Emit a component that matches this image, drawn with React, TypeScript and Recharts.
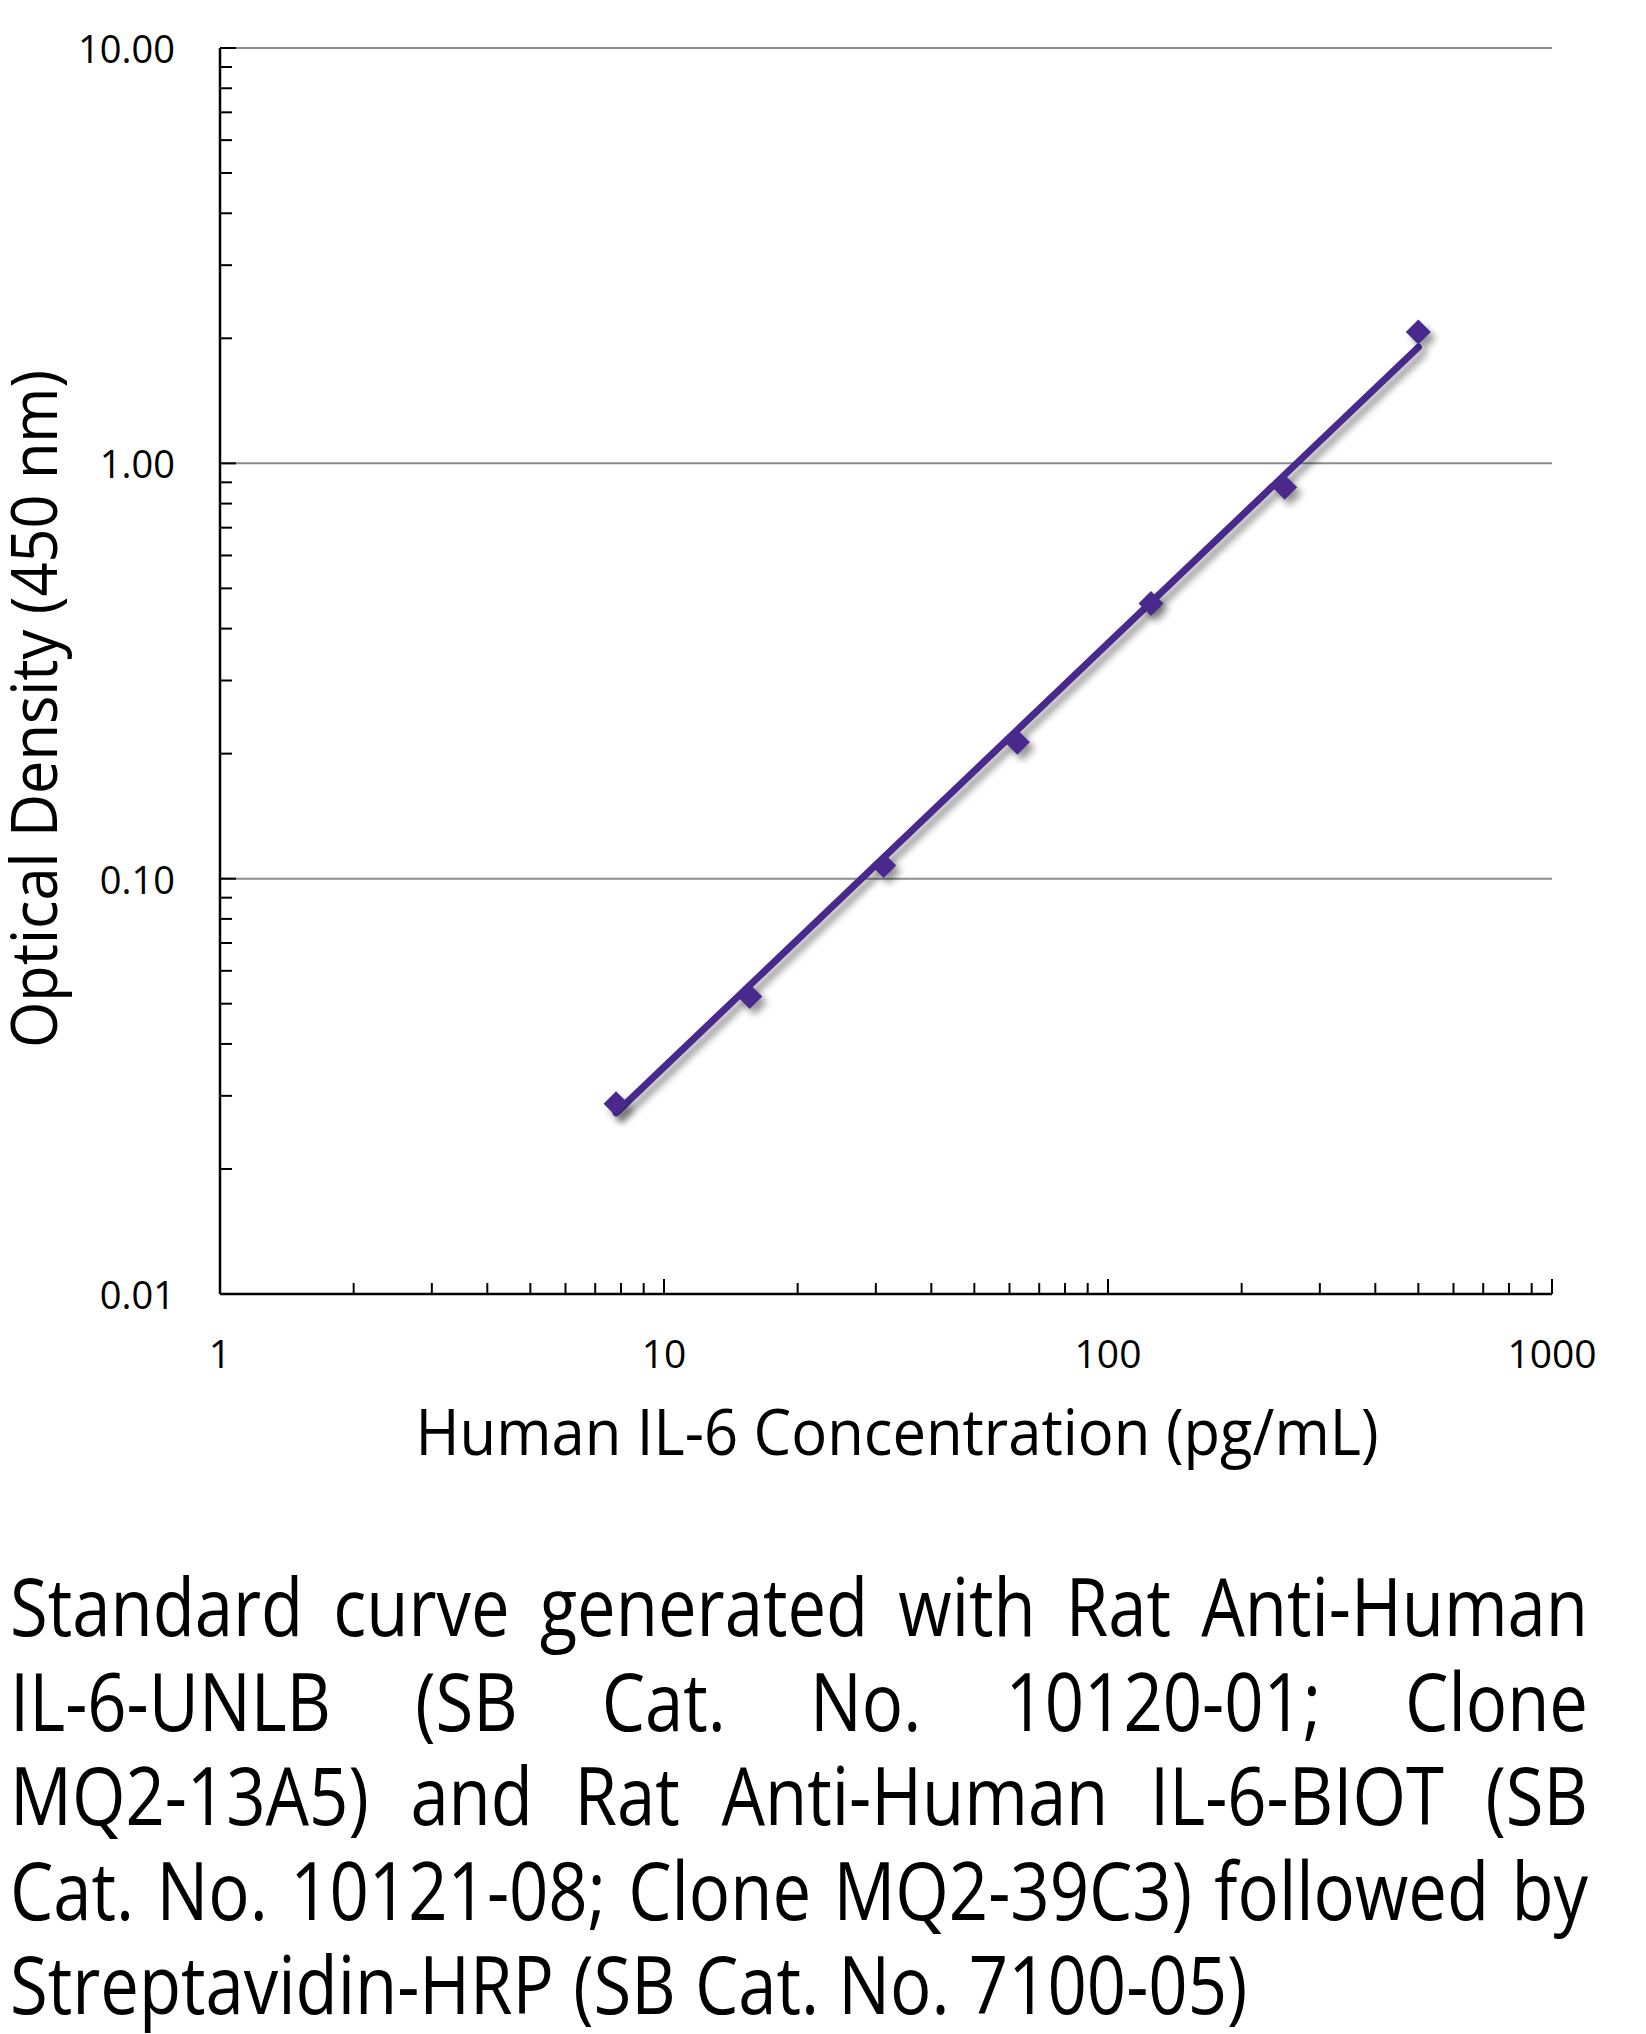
import React from 'react';
import { ComposedChart, XAxis, YAxis, CartesianGrid, Line, Scatter } from 'recharts';

// standard curve readings
const concentrations = [7.8, 15.6, 31.25, 62.5, 125, 250, 500];
const odValues = [0.0287, 0.052, 0.1075, 0.213, 0.46, 0.876, 2.07];

// fitted line, read at its two ends
const fitConc = [7.8, 500];
const fitOd = [0.0273, 1.904];

const xMajorTicks = [1, 10, 100, 1000];
const xMinorTicks = [2, 3, 4, 5, 6, 7, 8, 9, 20, 30, 40, 50, 60, 70, 80, 90, 200, 300, 400, 500, 600, 700, 800, 900];
const yMajorTicks = [0.01, 0.1, 1, 10];
const yMinorTicks = [
  0.02, 0.03, 0.04, 0.05, 0.06, 0.07, 0.08, 0.09,
  0.2, 0.3, 0.4, 0.5, 0.6, 0.7, 0.8, 0.9,
  2, 3, 4, 5, 6, 7, 8, 9,
];
const gridValues = [0.1, 1, 10];

const xTitle = 'Human IL-6 Concentration (pg/mL)';
const yTitle = 'Optical Density (450 nm)';
const captionLines = [
  'Standard curve generated with Rat Anti-Human',
  'IL-6-UNLB (SB Cat. No. 10120-01; Clone',
  'MQ2-13A5) and Rat Anti-Human IL-6-BIOT (SB',
  'Cat. No. 10121-08; Clone MQ2-39C3) followed by',
  'Streptavidin-HRP (SB Cat. No. 7100-05)',
];

const PURPLE = '#482A8C';
const FONT = '"Open Sans", "Noto Sans", sans-serif';

const points = concentrations.map((c, i) => ({ conc: c, od: odValues[i] }));
const fit = fitConc.map((c, i) => ({ conc: c, od: fitOd[i] }));

const XTick = (props: any) => {
  const { x, y, payload } = props;
  const major = xMajorTicks.includes(payload.value);
  return (
    <g>
      <line x1={x} x2={x} y1={y} y2={y - (major ? 15 : 11)} stroke="#000" strokeWidth={2} />
      {major && (
        <text x={x} y={y + 58} textAnchor="middle" dominantBaseline="central"
          fontFamily={FONT} fontSize={39} fill="#000">
          {payload.value}
        </text>
      )}
    </g>
  );
};

const YTick = (props: any) => {
  const { x, y, payload } = props;
  const major = yMajorTicks.includes(payload.value);
  return (
    <g>
      <line x1={x} x2={x + (major ? 16 : 12)} y1={y} y2={y} stroke="#000" strokeWidth={2} />
      {major && (
        <text x={x - 45} y={y} textAnchor="end" dominantBaseline="central"
          fontFamily={FONT} fontSize={38} fill="#000">
          {Number(payload.value).toFixed(2)}
        </text>
      )}
    </g>
  );
};

const Diamond = (props: any) => {
  const { cx, cy } = props;
  const r = 12.5;
  return (
    <path
      d={`M${cx},${cy - r}L${cx + r},${cy}L${cx},${cy + r}L${cx - r},${cy}Z`}
      fill={PURPLE}
      filter="url(#dropShadow)"
    />
  );
};

export default function App() {
  const k = 0.86;
  return (
    <div style={{ position: 'absolute', left: 0, top: 0, width: 1646, height: 2034, background: '#fff' }}>
      <svg width={0} height={0} style={{ position: 'absolute' }}>
        <defs>
          <filter id="dropShadow" x="-30%" y="-30%" width="170%" height="170%">
            <feDropShadow dx={5} dy={6} stdDeviation={3.5} floodColor="#000" floodOpacity={0.4} />
          </filter>
        </defs>
      </svg>

      <ComposedChart
        width={1646}
        height={1480}
        margin={{ top: 48, right: 94, left: 219, bottom: 185 }}
      >
        <CartesianGrid horizontal vertical={false} horizontalValues={gridValues} stroke="#8c8c8c" strokeWidth={2} />
        <XAxis
          dataKey="conc"
          type="number"
          scale="log"
          domain={[1, 1000]}
          ticks={[...xMajorTicks, ...xMinorTicks].sort((a, b) => a - b)}
          interval={0}
          height={1}
          tickSize={0}
          tickMargin={0}
          tickLine={false}
          tick={<XTick />}
          axisLine={{ stroke: '#000', strokeWidth: 2.5 }}
          allowDataOverflow
          label={{
            content: () => (
              <text x={897} y={1455} textAnchor="middle"
                fontFamily={FONT} fontSize={64} textLength={963} lengthAdjust="spacingAndGlyphs" fill="#000">
                {xTitle}
              </text>
            ),
          }}
        />
        <YAxis
          dataKey="od"
          type="number"
          scale="log"
          domain={[0.01, 10]}
          ticks={[...yMajorTicks, ...yMinorTicks].sort((a, b) => a - b)}
          interval={0}
          width={1}
          tickSize={0}
          tickMargin={0}
          tickLine={false}
          tick={<YTick />}
          axisLine={{ stroke: '#000', strokeWidth: 2.5 }}
          allowDataOverflow
          label={{
            content: () => (
              <text x={57} y={709} transform="rotate(-90 57 709)" textAnchor="middle"
                fontFamily={FONT} fontSize={64} textLength={678} lengthAdjust="spacingAndGlyphs" fill="#000">
                {yTitle}
              </text>
            ),
          }}
        />
        <Scatter data={points} dataKey="od" shape={<Diamond />} isAnimationActive={false} />
        <Line
          data={fit}
          dataKey="od"
          type="linear"
          stroke={PURPLE}
          strokeWidth={7}
          strokeLinecap="round"
          dot={false}
          activeDot={false}
          filter="url(#dropShadow)"
          isAnimationActive={false}
        />
      </ComposedChart>

      <div
        style={{
          position: 'absolute',
          left: 10,
          top: 1558,
          width: 1578 / k,
          transform: `scaleX(${k})`,
          transformOrigin: '0 0',
          fontFamily: FONT,
          fontSize: 80,
          lineHeight: '94.5px',
          color: '#000',
        }}
      >
        {captionLines.map((t, i) => {
          const last = i === captionLines.length - 1;
          return (
            <div
              key={i}
              style={{
                textAlign: last ? 'left' : 'justify',
                textAlignLast: last ? 'auto' : 'justify',
                wordSpacing: last ? '0.02em' : '-0.08em',
              }}
            >
              {t}
            </div>
          );
        })}
      </div>
    </div>
  );
}
